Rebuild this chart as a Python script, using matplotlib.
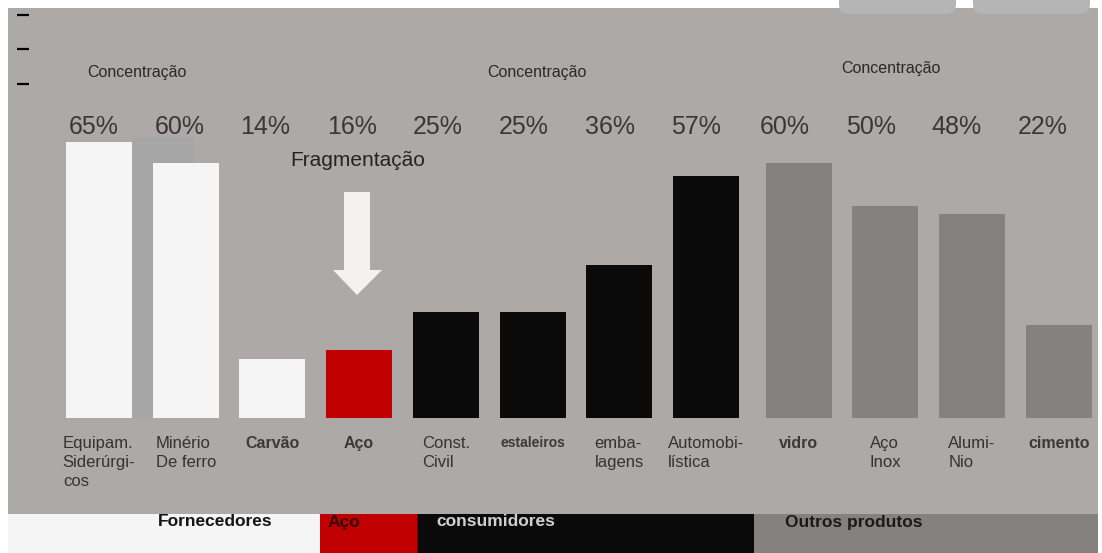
import matplotlib
matplotlib.use("Agg")
import matplotlib.pyplot as plt
from matplotlib.patches import Rectangle, Polygon, FancyBboxPatch

plt.rcParams["font.family"] = ["Liberation Sans", "DejaVu Sans"]

# ---- data -------------------------------------------------------------
categories = ["Equipam.\nSiderúrgi-\ncos", "Minério\nDe ferro", "Carvão", "Aço",
              "Const.\nCivil", "estaleiros", "emba-\nlagens", "Automobi-\nlística",
              "vidro", "Aço\nInox", "Alumi-\nNio", "cimento"]
concentration = [65, 60, 14, 16, 25, 25, 36, 57, 60, 50, 48, 22]
groups = ["Fornecedores"] * 3 + ["Aço"] + ["consumidores"] * 4 + ["Outros produtos"] * 4
group_names = ["Fornecedores", "Aço", "consumidores", "Outros produtos"]
heavy_labels = ["Carvão", "Aço", "estaleiros", "vidro", "cimento"]

# ---- style --------------------------------------------------------------
W, H = 1102, 553
PANEL = "#aca9a6"
group_colors = {"Fornecedores": "#f6f5f5", "Aço": "#c00000",
                "consumidores": "#0a0a0a", "Outros produtos": "#858181"}
band_text = {"Fornecedores": "#151515", "Aço": "#3a0000",
             "consumidores": "#d0d0d0", "Outros produtos": "#1a1a1a"}
band_spans = {"Fornecedores": (8, 320), "Aço": (320, 417),
              "consumidores": (417, 754), "Outros produtos": (754, 1098)}

fig = plt.figure(figsize=(W / 100, H / 100), dpi=100)
fig.patch.set_facecolor("white")

# background layer in pixel coordinates
deco = fig.add_axes([0, 0, 1, 1], zorder=0)
deco.set_xlim(0, W)
deco.set_ylim(H, 0)
deco.axis("off")

deco.add_patch(Rectangle((8, 8), 1090, 506, color=PANEL, lw=0))
for x0 in (839, 973):
    deco.add_patch(FancyBboxPatch((x0, -30), 117, 44,
                                  boxstyle="round,pad=0,rounding_size=10",
                                  fc="#b5b5b5", ec="none"))
deco.add_patch(Rectangle((132, 137), 61, 281, color="#a6a6a6", lw=0))

for y in (15, 49, 84):
    deco.plot([17, 29], [y, y], color="black", lw=1.6, solid_capstyle="butt")

# bottom band with group names
for g in group_names:
    a, b = band_spans[g]
    deco.add_patch(Rectangle((a, 514), b - a, H - 514, color=group_colors[g], lw=0))
band_label_x = {"Fornecedores": 215, "Aço": 344, "consumidores": 496,
                "Outros produtos": 854}
for g in group_names:
    deco.text(band_label_x[g], 522, g, ha="center", va="center", fontsize=12.5,
              fontweight="bold", color=band_text[g])

# headings
for x, y in ((137, 72), (537, 72), (891, 68)):
    deco.text(x, y, "Concentração", ha="center", va="center", fontsize=11.5,
              color="#2a2a2a")
deco.text(358, 160, "Fragmentação", ha="center", va="center", fontsize=15,
          color="#242424")

# downward arrow
deco.add_patch(Polygon([(344, 192), (370, 192), (370, 270), (382, 270),
                        (357, 295), (333, 270), (344, 270)],
                       closed=True, fc="#f4f2f0", ec="none"))

# ---- bars -------------------------------------------------------------
step, start, gap = 86.7, 99.0, 6.0
xs = [start + i * step + (gap if groups[i] == "Outros produtos" else 0)
      for i in range(len(categories))]
# value labels sit on their own, slightly tighter grid
label_xs = [0.5 * (x - 10) + 0.5 * (98.1 + 85.36 * i) for i, x in enumerate(xs)]

ax = fig.add_axes([0, 0, 1, 1], zorder=1)
ax.patch.set_alpha(0)
ax.set_xlim(0, W)
px_per_unit = 4.25
base_px = 418
ax.set_ylim((base_px - H) / px_per_unit, base_px / px_per_unit)
ax.axis("off")
ax.bar(xs, concentration, width=66, color=[group_colors[g] for g in groups],
       linewidth=0)

for x, lx, v, lab in zip(xs, label_xs, concentration, categories):
    deco.text(lx, 127, f"{v}%", ha="center", va="center", fontsize=18,
              color="#383838")
    heavy = lab in heavy_labels
    if heavy:
        size = 10 if lab == "estaleiros" else 11.5
    else:
        size = 12
    deco.text(x, 436, lab, ha="center", va="top", multialignment="left",
              fontsize=size, linespacing=1.32,
              fontweight="bold" if heavy else "normal",
              color="#3a3a3a" if heavy else "#333333")

fig.savefig("out.png", dpi=100, facecolor=fig.get_facecolor())
